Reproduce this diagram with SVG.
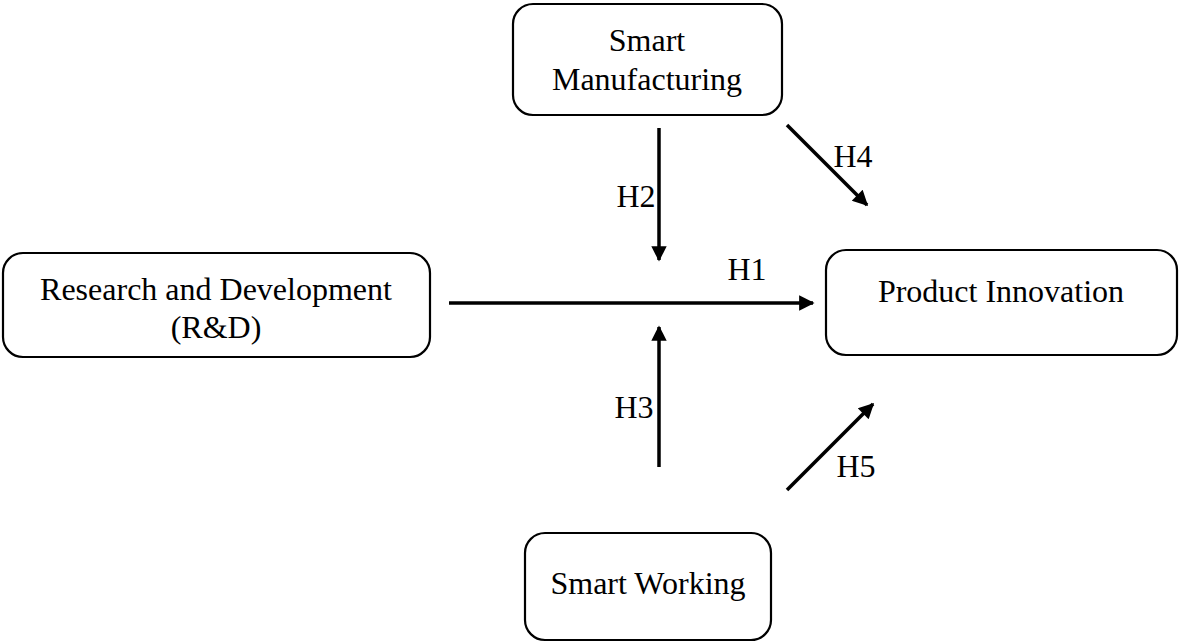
<svg xmlns="http://www.w3.org/2000/svg" width="1179" height="642" viewBox="0 0 1179 642">
<style>
.box{fill:#fff;stroke:#000;stroke-width:2.2}
.t{font-family:"Liberation Serif","Times New Roman",serif;font-size:32px;fill:#000;text-anchor:middle}
.c{stroke:#000;stroke-width:3.5;fill:none}
</style>
<defs>
<marker id="ah" viewBox="0 0 10 10" refX="9" refY="5" markerWidth="5" markerHeight="4.4" markerUnits="strokeWidth" orient="auto">
<path d="M0,0 L10,5 L0,10 z" fill="#000"/>
</marker>
</defs>
<rect width="1179" height="642" fill="#fff"/>
<g id="smart-manufacturing">
<rect class="box" x="513" y="4" width="269" height="111" rx="20"/>
<text class="t" x="647" y="51">Smart</text>
<text class="t" x="647" y="90">Manufacturing</text>
</g>
<g id="rnd">
<rect class="box" x="3" y="253" width="427" height="104" rx="20"/>
<text class="t" x="216" y="300">Research and Development</text>
<text class="t" x="216" y="338">(R&amp;D)</text>
</g>
<g id="product-innovation">
<rect class="box" x="826" y="250" width="351" height="105" rx="20"/>
<text class="t" x="1001" y="302">Product Innovation</text>
</g>
<g id="smart-working">
<rect class="box" x="525" y="533" width="246" height="107" rx="20"/>
<text class="t" x="648" y="594">Smart Working</text>
</g>
<g id="connectors">
<line class="c" x1="449" y1="303" x2="813" y2="303" marker-end="url(#ah)"/>
<line class="c" x1="659" y1="128" x2="659" y2="260" marker-end="url(#ah)"/>
<line class="c" x1="659" y1="467" x2="659" y2="327" marker-end="url(#ah)"/>
<line class="c" x1="787" y1="125" x2="867" y2="205" marker-end="url(#ah)"/>
<line class="c" x1="787" y1="490" x2="873" y2="404" marker-end="url(#ah)"/>
<text class="t" x="747" y="280">H1</text>
<text class="t" x="636" y="207">H2</text>
<text class="t" x="634" y="418">H3</text>
<text class="t" x="853" y="167">H4</text>
<text class="t" x="856" y="477">H5</text>
</g>
</svg>
